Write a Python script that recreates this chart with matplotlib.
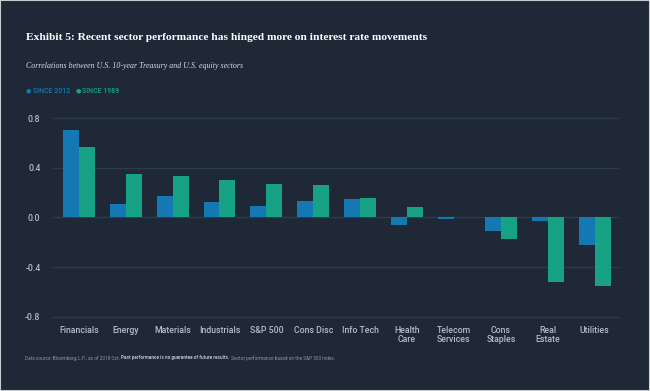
import numpy as np
import matplotlib
matplotlib.use("Agg")
import matplotlib.pyplot as plt
from matplotlib.patches import Rectangle

sectors = ["Financials", "Energy", "Materials", "Industrials", "S&P 500", "Cons Disc",
           "Info Tech", "Health\nCare", "Telecom\nServices", "Cons\nStaples", "Real\nEstate",
           "Utilities"]
since_2012 = [0.70, 0.11, 0.17, 0.12, 0.09, 0.13, 0.15, -0.06, -0.01, -0.11, -0.03, -0.22]
since_1989 = [0.57, 0.35, 0.33, 0.30, 0.27, 0.26, 0.16, 0.08, 0.00, -0.17, -0.52, -0.55]
y_ticks = [-0.8, -0.4, 0.0, 0.4, 0.8]

bg = "#1e2836"
blue = "#1479b3"
green = "#17a286"
grid_col = "#2f3b4a"
label_col = "#b4bcc6"
sans = "Roboto"

fig = plt.figure(figsize=(6.5, 3.91), dpi=100, facecolor=bg)
ax = fig.add_axes([0.0815, 0.19, 0.8695, 0.508])
ax.set_facecolor(bg)

x = np.arange(len(sectors))
w = 0.34
ax.bar(x - w / 2, since_2012, w, color=blue, zorder=3)
ax.bar(x + w / 2, since_1989, w, color=green, zorder=3)

ax.set_xlim(-0.55, len(sectors) - 0.5)
ax.set_ylim(-0.8, 0.8)
ax.set_yticks(y_ticks)
ax.set_yticklabels([f"{v:.1f}" for v in y_ticks])
for v in y_ticks:
    ax.axhline(v, color=grid_col, lw=1, zorder=1, clip_on=False)
ax.set_xticks(x)
ax.set_xticklabels(sectors, linespacing=1.0)
ax.tick_params(axis="both", length=0, colors=label_col, labelsize=6.3)
ax.tick_params(axis="x", pad=7)
ax.tick_params(axis="y", pad=9)
for lbl in ax.get_xticklabels() + ax.get_yticklabels():
    lbl.set_fontfamily(sans)
    lbl.set_fontweight("medium")
for s in ax.spines.values():
    s.set_visible(False)

fig.text(26 / 650, 1 - 37 / 391, "Exhibit 5: Recent sector performance has hinged more on interest rate movements",
         color="white", fontsize=8.2, fontweight="bold", family="Liberation Serif", va="center")
fig.text(26 / 650, 1 - 66 / 391, "Correlations between U.S. 10-year Treasury and U.S. equity sectors",
         color="#d8dde3", fontsize=5.7, style="italic", family="Liberation Serif", va="center")

fig.text(26 / 650, 1 - 91 / 391, "\u25cf", color=blue, fontsize=4.5, va="center")
fig.text(33 / 650, 1 - 91 / 391, "SINCE 2012", color=blue, fontsize=5, va="center",
         family=sans, fontweight="medium")
fig.text(76 / 650, 1 - 91 / 391, "\u25cf", color=green, fontsize=4.5, va="center")
fig.text(82 / 650, 1 - 91 / 391, "SINCE 1989", color=green, fontsize=5, va="center",
         family=sans, fontweight="medium")

foot_y = 1 - 358 / 391
fsize = 3.4
t1 = fig.text(25 / 650, foot_y, "Data source: Bloomberg, L.P., as of 2018 Oct. ", color="#8d96a1",
              fontsize=fsize, va="center", family=sans)
fig.canvas.draw()
r = fig.canvas.get_renderer()
bb = t1.get_window_extent(r)
t2 = fig.text(bb.x1 / 650, foot_y, "Past performance is no guarantee of future results.",
              color="#b4bcc6", fontsize=fsize, va="center", family=sans, fontweight="bold")
bb2 = t2.get_window_extent(r)
fig.text(bb2.x1 / 650, foot_y, " Sector performance based on the S&P 500 Index.", color="#8d96a1",
         fontsize=fsize, va="center", family=sans)

fig.patches.append(Rectangle((0, 0), 1, 1, transform=fig.transFigure, fill=False,
                             edgecolor="#c8ccd0", lw=1.5, zorder=10))

fig.savefig("out.png", dpi=100, facecolor=bg)
